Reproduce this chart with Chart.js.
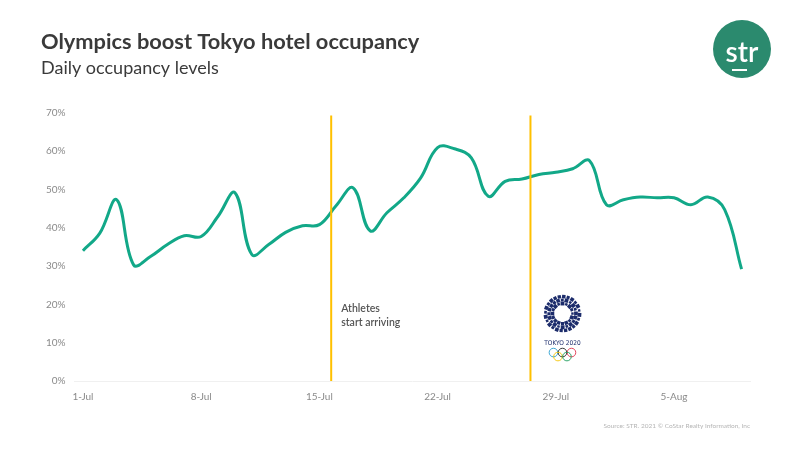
<!DOCTYPE html>
<html>
<head>
<meta charset="utf-8">
<script src="https://cdn.jsdelivr.net/npm/chart.js@4.4.1/dist/chart.umd.min.js"></script>
<style>
  html, body { margin: 0; padding: 0; background: #fff; }
  #wrap { width: 800px; height: 450px; position: relative; }
</style>
</head>
<body>
<div id="wrap"><canvas id="occ" width="800" height="450"></canvas></div>
<script>
// daily dates, 1-Jul .. 9-Aug 2021
const days = [
  '1-Jul','2-Jul','3-Jul','4-Jul','5-Jul','6-Jul','7-Jul','8-Jul','9-Jul','10-Jul',
  '11-Jul','12-Jul','13-Jul','14-Jul','15-Jul','16-Jul','17-Jul','18-Jul','19-Jul','20-Jul',
  '21-Jul','22-Jul','23-Jul','24-Jul','25-Jul','26-Jul','27-Jul','28-Jul','29-Jul','30-Jul',
  '31-Jul','1-Aug','2-Aug','3-Aug','4-Aug','5-Aug','6-Aug','7-Aug','8-Aug','9-Aug'
];
// occupancy %
const occupancy = [
  34.0, 38.6, 47.3, 30.3, 32.5, 35.6, 37.9, 37.7, 43.0, 49.1,
  33.0, 35.6, 38.8, 40.5, 40.8, 45.8, 50.4, 39.2, 43.9, 47.8,
  53.0, 60.9, 60.6, 58.2, 48.2, 52.1, 52.7, 53.9, 54.5, 55.4,
  57.5, 46.0, 47.3, 48.0, 47.8, 47.8, 46.0, 48.0, 44.7, 29.2
];
const shownTicks = ['1-Jul', '8-Jul', '15-Jul', '22-Jul', '29-Jul', '5-Aug'];
const yTicks = [0, 10, 20, 30, 40, 50, 60, 70];

// event markers (position as day index on the x axis)
const eventAt = [14.7, 26.5];
const eventText = [['Athletes', 'start arriving'], []];

const teal = '#12a888';
const gold = '#ffc000';

const decor = {
  id: 'decor',
  afterDatasetsDraw(chart) {
    const { ctx, chartArea, scales } = chart;
    const x = scales.x, y = scales.y;
    ctx.save();
    // event lines
    eventAt.forEach((d, i) => {
      const px = x.getPixelForValue(d);
      ctx.strokeStyle = gold;
      ctx.lineWidth = 2;
      ctx.beginPath();
      ctx.moveTo(px, y.getPixelForValue(69.3));
      ctx.lineTo(px, chartArea.bottom);
      ctx.stroke();
      ctx.fillStyle = '#555';
      ctx.font = '600 10.5px Lato';
      ctx.textBaseline = 'middle';
      eventText[i].forEach((t, k) => ctx.fillText(t, px + 10, y.getPixelForValue(18.9) + k * 14));
    });

    // Tokyo 2020 emblem
    const cx = x.getPixelForValue(26.5) + 32, cy = y.getPixelForValue(17.6);
    ctx.fillStyle = '#1c2c6b';
    [10, 13.5, 17].forEach((r, ring) => {
      const n = ring === 0 ? 16 : ring === 1 ? 20 : 24;
      for (let k = 0; k < n; k++) {
        const a = (k / n) * Math.PI * 2 + ring * 0.3;
        const s = 2.4 + 1.4 * Math.abs(Math.sin(k * 1.7 + ring));
        ctx.save();
        ctx.translate(cx + Math.cos(a) * r, cy + Math.sin(a) * r);
        ctx.rotate(a);
        ctx.fillRect(-s / 2, -s / 2, s, s);
        ctx.restore();
      }
    });
    ctx.font = '6.5px "DejaVu Sans Condensed", sans-serif';
    ctx.textAlign = 'center';
    ctx.textBaseline = 'middle';
    ctx.fillText('TOKYO 2020', cx, cy + 30);
    const rings = [[-9, 0, '#2a9fd0'], [0, 0, '#222'], [9, 0, '#e0314b'], [-4.5, 4, '#f4c300'], [4.5, 4, '#1a9b5a']];
    ctx.lineWidth = 0.9;
    rings.forEach(([dx, dy, c]) => {
      ctx.strokeStyle = c;
      ctx.beginPath();
      ctx.arc(cx + dx, cy + 39 + dy, 4.3, 0, Math.PI * 2);
      ctx.stroke();
    });

    // str logo
    ctx.fillStyle = '#2b8a6e';
    ctx.beginPath();
    ctx.arc(742, 49, 29, 0, Math.PI * 2);
    ctx.fill();
    ctx.fillStyle = '#fff';
    ctx.font = '600 28px Lato';
    ctx.textAlign = 'center';
    ctx.textBaseline = 'alphabetic';
    ctx.fillText('str', 742, 62);
    ctx.fillRect(732, 69, 15, 2);

    // source
    ctx.fillStyle = '#b5b5b5';
    ctx.font = '6.5px Lato';
    ctx.textAlign = 'right';
    ctx.fillText('Source: STR. 2021 \u00A9 CoStar Realty Information, Inc', 750, 428);
    ctx.restore();
  }
};

new Chart(document.getElementById('occ'), {
  type: 'line',
  data: {
    labels: days,
    datasets: [{
      data: occupancy,
      borderColor: teal,
      borderWidth: 3,
      pointRadius: 0,
      tension: 0.4,
      fill: false
    }]
  },
  options: {
    responsive: false,
    animation: false,
    layout: { padding: { left: 41, right: 50, top: 29, bottom: 37 } },
    plugins: {
      legend: { display: false },
      tooltip: { enabled: false },
      title: {
        display: true,
        text: 'Olympics boost Tokyo hotel occupancy',
        align: 'start',
        color: '#3a3a3a',
        font: { family: 'Lato', size: 21.8, weight: 'bold' },
        padding: { top: 0, bottom: 2 }
      },
      subtitle: {
        display: true,
        text: 'Daily occupancy levels',
        align: 'start',
        color: '#3a3a3a',
        font: { family: 'Lato', size: 18 },
        padding: { top: 0, bottom: 34 }
      }
    },
    scales: {
      x: {
        offset: true,
        grid: { display: false, drawTicks: false },
        border: { color: '#f0f0f0', width: 1 },
        ticks: {
          autoSkip: false,
          maxRotation: 0,
          color: '#8a8a8a',
          font: { family: 'Lato', size: 10 },
          padding: 10,
          callback: function (v) {
            const lab = this.getLabelForValue(v);
            return shownTicks.includes(lab) ? lab : '';
          }
        }
      },
      y: {
        min: yTicks[0],
        max: yTicks[yTicks.length - 1],
        afterBuildTicks: (s) => { s.ticks = yTicks.map(v => ({ value: v })); },
        afterFit: (s) => { s.width = 33.5; },
        grid: { display: false, drawTicks: false },
        border: { display: false },
        ticks: {
          color: '#8a8a8a',
          font: { family: 'Lato', size: 10 },
          padding: 9,
          callback: (v) => v + '%'
        }
      }
    }
  },
  plugins: [decor]
});
</script>
</body>
</html>
